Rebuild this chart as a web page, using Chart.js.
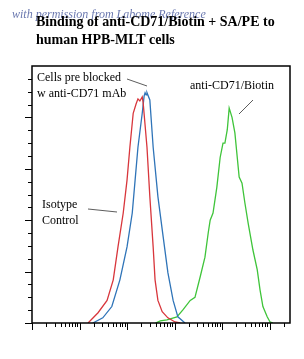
<!DOCTYPE html>
<html>
<head>
<meta charset="utf-8">
<script src="https://cdn.jsdelivr.net/npm/chart.js@4"></script>
<style>
  html, body { margin: 0; padding: 0; background: #fff; }
  #wrap { width: 304px; height: 359px; }
</style>
</head>
<body>
<div id="wrap"><canvas id="histo" width="304" height="359"></canvas></div>
<script>
// x = log10 fluorescence (decades), y = cell count
const redX   = [1.18, 1.39, 1.58, 1.71, 1.81, 1.92, 2.00, 2.06, 2.13, 2.19, 2.23, 2.27, 2.32, 2.34, 2.42, 2.48, 2.55, 2.59, 2.65, 2.74, 2.86, 3.01, 3.12];
const redY   = [0, 10, 22, 42, 74, 107, 139, 171, 204, 213, 218, 216, 220, 214, 171, 123, 74, 42, 22, 11, 5, 1, 0];
const blueX  = [1.28, 1.49, 1.68, 1.85, 2.00, 2.11, 2.17, 2.23, 2.32, 2.36, 2.38, 2.40, 2.42, 2.48, 2.55, 2.65, 2.76, 2.86, 2.97, 3.07, 3.22];
const blueY  = [0, 5, 16, 42, 74, 107, 139, 171, 204, 221, 224, 222, 224, 217, 171, 123, 84, 49, 22, 6, 0];
const greenX = [2.60, 2.70, 2.84, 3.05, 3.18, 3.33, 3.43, 3.54, 3.64, 3.71, 3.75, 3.81, 3.89, 3.96, 4.02, 4.06, 4.11, 4.15, 4.21, 4.27, 4.32, 4.36, 4.42, 4.48, 4.55, 4.65, 4.74, 4.80, 4.86, 4.95, 5.01, 5.07];
const greenY = [0, 2, 3, 6, 13, 22, 25, 45, 64, 88, 100, 107, 132, 161, 175, 175, 188, 209, 200, 185, 161, 142, 136, 117, 97, 71, 52, 32, 16, 6, 1, 0];

const yTicks = [0, 50, 100, 150, 200, 250];
const titleLines = ['Binding of anti-CD71/Biotin + SA/PE to', 'human HPB-MLT cells'];

function pts(xs, ys) { return xs.map((x, i) => ({ x: x, y: ys[i] })); }

const decor = {
  id: 'decor',
  afterDraw(chart) {
    const ctx = chart.ctx, a = chart.chartArea;
    const sx = chart.scales.x, sy = chart.scales.y;
    ctx.save();
    // frame
    ctx.strokeStyle = '#000';
    ctx.lineWidth = 1.5;
    ctx.strokeRect(a.left, a.top, a.right - a.left, a.bottom - a.top);
    ctx.lineWidth = 1;
    // y ticks (major at labels, 4 minors between)
    for (let i = 0; i < yTicks.length - 1; i++) {
      for (let k = 0; k < 4; k++) {
        const v = yTicks[i] + k * (yTicks[i + 1] - yTicks[i]) / 4;
        const y = Math.round(sy.getPixelForValue(v)) + 0.5;
        ctx.beginPath();
        ctx.moveTo(a.left - (k === 0 ? 7 : 4), y);
        ctx.lineTo(a.left, y);
        ctx.stroke();
      }
    }
    // x ticks, log decades
    for (let d = 0; d <= 5; d++) {
      for (let m = 1; m <= 9; m++) {
        const v = d + Math.log10(m);
        if (v > sx.max) break;
        const x = Math.round(sx.getPixelForValue(v)) + 0.5;
        ctx.beginPath();
        ctx.moveTo(x, a.bottom);
        ctx.lineTo(x, a.bottom + (m === 1 ? 7 : 4));
        ctx.stroke();
      }
    }
    // watermark
    ctx.fillStyle = 'rgba(40,60,140,0.7)';
    ctx.font = 'italic 12px "Liberation Serif"';
    ctx.fillText('with permission from Labome Reference', 12, 18);
    // title
    ctx.fillStyle = '#000';
    ctx.font = 'bold 14px "Liberation Serif"';
    ctx.textBaseline = 'alphabetic';
    ctx.fillText(titleLines[0], 36, 26);
    ctx.fillText(titleLines[1], 36, 44);
    // annotations
    ctx.font = '12px "Liberation Serif"';
    ctx.fillText('Cells pre blocked', 37, 81);
    ctx.fillText('w anti-CD71 mAb', 37, 97);
    ctx.fillText('anti-CD71/Biotin', 190, 89);
    ctx.fillText('Isotype', 42, 208);
    ctx.fillText('Control', 42, 224);
    ctx.strokeStyle = '#333';
    ctx.lineWidth = 0.8;
    [[127, 79, 147, 86], [253, 100, 239, 114], [88, 209, 117, 212]].forEach(l => {
      ctx.beginPath();
      ctx.moveTo(l[0], l[1]);
      ctx.lineTo(l[2], l[3]);
      ctx.stroke();
    });
    ctx.restore();
  }
};

new Chart(document.getElementById('histo'), {
  type: 'line',
  data: {
    datasets: [
      { label: 'Isotype Control', data: pts(redX, redY), borderColor: '#d8363c' },
      { label: 'Cells pre blocked w anti-CD71 mAb', data: pts(blueX, blueY), borderColor: '#2f74b8' },
      { label: 'anti-CD71/Biotin', data: pts(greenX, greenY), borderColor: '#3fc43a' }
    ]
  },
  options: {
    responsive: false,
    animation: false,
    events: [],
    layout: { padding: { left: 32, top: 66, right: 14, bottom: 36 } },
    elements: { point: { radius: 0 }, line: { borderWidth: 1.3, tension: 0 } },
    plugins: { legend: { display: false }, tooltip: { enabled: false } },
    scales: {
      x: { type: 'linear', min: 0, max: 5.43, display: false },
      y: { min: 0, max: 250, display: false }
    }
  },
  plugins: [decor]
});
</script>
</body>
</html>
